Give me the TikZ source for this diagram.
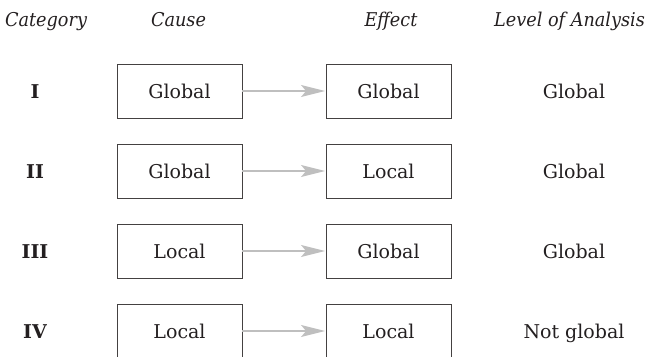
\documentclass[tikz,border=0pt]{standalone}
\usepackage{fontspec}
\setmainfont{DejaVu Serif}
\newfontfamily\headfont{DejaVu Serif}[FakeStretch=0.93]
\usetikzlibrary{arrows.meta}
\definecolor{ink}{HTML}{231F20}
\definecolor{arrowgray}{HTML}{BFBFBF}
\tikzset{
  txt/.style={font=\fontsize{19}{22}\selectfont, text=ink, inner sep=0pt, text height=14pt, text depth=0pt},
  head/.style={font=\headfont\fontsize{19}{22}\selectfont\itshape, text=ink, inner sep=0pt, anchor=base},
  catnum/.style={txt, font=\fontsize{19}{22}\selectfont\bfseries},
  box/.style={txt, draw=ink!85, line width=0.9pt, minimum width=125pt, minimum height=54pt},
  link/.style={draw=arrowgray, line width=1.5pt, -{Stealth[length=24pt, width=12pt, inset=5pt]}, shorten >=0.5pt}
}
\begin{document}
\begin{tikzpicture}[x=1pt, y=-1pt]
  \useasboundingbox (0,0) rectangle (647,356);
  \clip (0,0) rectangle (647,356);

  % column headings
  \node[head] (hcat) at (46,27) {Category};
  \node[head] (hcause) at (178.5,27) {Cause};
  \node[head] (heff) at (391,27) {Effect};
  \node[head] (hlev) at (569.5,27) {Level of Analysis};

  % rows: category, cause box, effect box, level of analysis
  \foreach \r/\y/\cat/\cause/\eff/\lev in {
      1/91/I/Global/Global/Global,
      2/171/II/Global/Local/Global,
      3/251/III/Local/Global/Global,
      4/331/IV/Local/Local/Not global} {
    \node[catnum] (cat\r) at (35,\y) {\cat};
    \node[box] (cause\r) at (179.5,\y) {\cause};
    \node[box] (eff\r) at (388.5,\y) {\eff};
    \node[txt] (lev\r) at (574,\y) {\lev};
    \draw[link] (cause\r.east) -- (eff\r.west);
  }
\end{tikzpicture}
\end{document}
